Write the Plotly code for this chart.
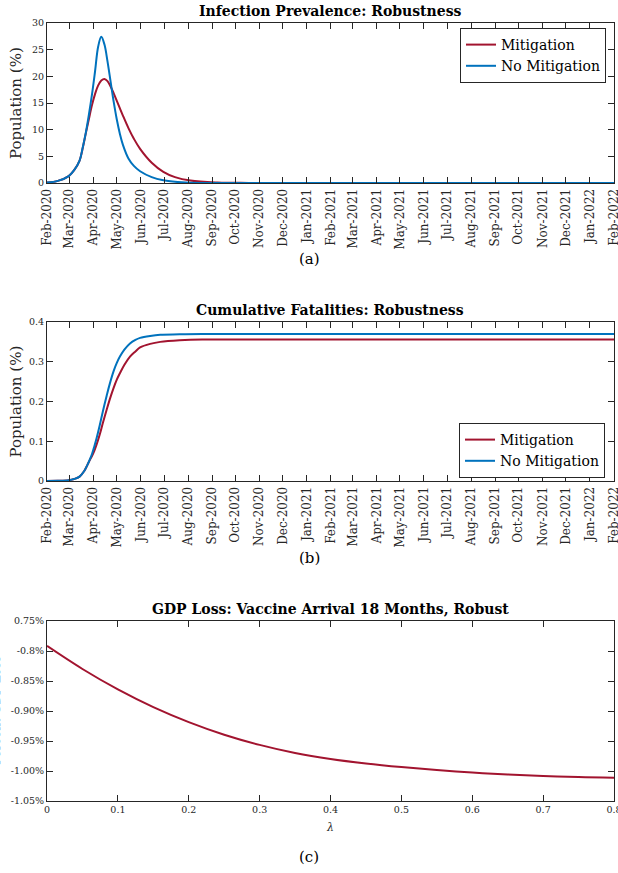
import plotly.graph_objects as go
import pandas as pd

W, H = 618, 873

# ---------- data ----------
start = pd.Timestamp("2020-02-01")

# Infection prevalence (%), by day since 1 Feb 2020
inf_days = [0, 14, 28, 35, 42, 46, 50, 54, 58, 62, 66, 70, 74, 78, 82, 86, 90, 94, 98,
            105, 112, 120, 135, 150, 165, 185, 220, 260, 300, 731]
inf_mitigation = [0.1, 0.4, 1.3, 2.4, 4.2, 6.5, 9.3, 12.0, 14.6, 16.7, 18.3, 19.2, 19.5,
                  19.1, 18.1, 16.8, 15.4, 14.0, 12.6, 10.3, 8.3, 6.4, 3.8, 2.1, 1.1, 0.45,
                  0.1, 0.02, 0.0, 0.0]
inf_no_mitigation = [0.1, 0.4, 1.3, 2.4, 4.2, 6.6, 9.4, 12.8, 16.6, 21.0, 25.6, 27.4, 26.0,
                     22.8, 19.0, 15.2, 11.9, 9.2, 7.1, 4.6, 3.2, 2.2, 1.1, 0.5, 0.22, 0.07,
                     0.01, 0.0, 0.0, 0.0]

# Cumulative fatalities (%), by day since 1 Feb 2020
fat_days = [0, 14, 28, 35, 42, 48, 52, 55, 58, 61, 64, 68, 72, 77, 81, 86, 90, 94, 100,
            107, 114, 120, 133, 146, 171, 200, 731]
fat_mitigation = [0.0, 0.0005, 0.002, 0.005, 0.011, 0.025, 0.040, 0.052, 0.063, 0.076,
                  0.092, 0.117, 0.146, 0.180, 0.206, 0.235, 0.255, 0.271, 0.293, 0.313,
                  0.326, 0.336, 0.345, 0.350, 0.354, 0.356, 0.356]
fat_no_mitigation = [0.0, 0.0005, 0.002, 0.005, 0.011, 0.025, 0.040, 0.053, 0.068, 0.087,
                     0.108, 0.140, 0.175, 0.215, 0.245, 0.277, 0.297, 0.313, 0.331, 0.346,
                     0.355, 0.360, 0.365, 0.368, 0.369, 0.370, 0.370]

# GDP loss (%) vs lambda
lam = [0.0, 0.05, 0.1, 0.15, 0.2, 0.25, 0.3, 0.35, 0.4, 0.45, 0.5, 0.55, 0.6, 0.65, 0.7, 0.75, 0.8]
gdp_loss = [-0.7915, -0.830, -0.864, -0.8935, -0.9185, -0.9395, -0.9565, -0.970, -0.9800,
            -0.9875, -0.9935, -0.9985, -1.0025, -1.0058, -1.0083, -1.0102, -1.0113]

gdp_ticks = [-1.05, -1.00, -0.95, -0.90, -0.85, -0.80, -0.75]
gdp_ticktext = ["-1.05%", "-1.00%", "-0.95%", "-0.90%", "-0.85%", "-0.8%", "0.75%"]
lam_ticks = [0, 0.1, 0.2, 0.3, 0.4, 0.5, 0.6, 0.7, 0.8]

titles = ["Infection Prevalence: Robustness", "Cumulative Fatalities: Robustness",
          "GDP Loss: Vaccine Arrival 18 Months, Robust"]
captions = ["(a)", "(b)", "(c)"]

inf_dates = [start + pd.Timedelta(days=d) for d in inf_days]
fat_dates = [start + pd.Timedelta(days=d) for d in fat_days]

RED = "#A2142F"
BLUE = "#0072BD"
FONT = "DejaVu Serif"
AX = "#262626"


def px(x):
    return x / W


def py(y):
    return 1 - y / H


XL, XR = 47, 614
boxes = [(23, 183), (322, 481), (621, 801)]

fig = go.Figure()
LW = 2
fig.add_trace(go.Scatter(x=inf_dates, y=inf_mitigation, mode="lines", name="Mitigation",
                         line=dict(color=RED, width=LW, shape="spline", smoothing=1),
                         xaxis="x", yaxis="y", legend="legend"))
fig.add_trace(go.Scatter(x=inf_dates, y=inf_no_mitigation, mode="lines", name="No Mitigation",
                         line=dict(color=BLUE, width=LW, shape="spline", smoothing=1),
                         xaxis="x", yaxis="y", legend="legend"))
fig.add_trace(go.Scatter(x=fat_dates, y=fat_mitigation, mode="lines", name="Mitigation",
                         line=dict(color=RED, width=LW, shape="spline", smoothing=1),
                         xaxis="x2", yaxis="y2", legend="legend2"))
fig.add_trace(go.Scatter(x=fat_dates, y=fat_no_mitigation, mode="lines", name="No Mitigation",
                         line=dict(color=BLUE, width=LW, shape="spline", smoothing=1),
                         xaxis="x2", yaxis="y2", legend="legend2"))
fig.add_trace(go.Scatter(x=lam, y=gdp_loss, mode="lines", showlegend=False,
                         line=dict(color=RED, width=LW, shape="spline", smoothing=1),
                         xaxis="x3", yaxis="y3"))

common = dict(showgrid=False, zeroline=False, showline=True, linecolor=AX, linewidth=1,
              mirror="allticks", ticks="inside", ticklen=6, tickcolor=AX,
              ticklabeloverflow="allow", automargin=False,
              tickfont=dict(family=FONT, size=9.5, color=AX))

date_axis = dict(common, type="date", range=["2020-02-01", "2022-02-01"],
                 tick0="2020-02-01", dtick="M1", tickformat="%b-%Y", tickangle=-90,
                 tickfont=dict(family=FONT, size=12, color=AX),
                 domain=[px(XL), px(XR)])

legend_common = dict(xanchor="right", bgcolor="white", bordercolor=AX, borderwidth=1,
                     font=dict(family=FONT, size=14, color="black"),
                     itemwidth=30, tracegroupgap=0)

fig.update_layout(
    width=W, height=H, margin=dict(l=0, r=0, t=0, b=0, autoexpand=False),
    paper_bgcolor="white", plot_bgcolor="white",
    font=dict(family=FONT, color="black"),
    xaxis=dict(date_axis, anchor="y"),
    yaxis=dict(common, range=[0, 30], dtick=5, anchor="x",
               domain=[py(boxes[0][1]), py(boxes[0][0])]),
    xaxis2=dict(date_axis, anchor="y2"),
    yaxis2=dict(common, range=[0, 0.4], dtick=0.1, anchor="x2",
                domain=[py(boxes[1][1]), py(boxes[1][0])]),
    xaxis3=dict(common, range=[0, 0.8], tickvals=lam_ticks,
                ticktext=[("%g" % v) for v in lam_ticks], anchor="y3",
                domain=[px(XL), px(XR)]),
    yaxis3=dict(common, range=[-1.05, -0.75], tickvals=gdp_ticks, ticktext=gdp_ticktext,
                anchor="x3", domain=[py(boxes[2][1]), py(boxes[2][0])]),
    legend=dict(legend_common, x=px(606), y=py(28), yanchor="top"),
    legend2=dict(legend_common, x=px(605), y=py(478), yanchor="bottom"),
)

ann = []
title_y = [11, 310, 609]
cap_y = [259, 558, 857]
for i in range(3):
    ann.append(dict(text="<b>%s</b>" % titles[i], x=px((XL + XR) / 2), y=py(title_y[i]),
                    xref="paper", yref="paper", showarrow=False,
                    font=dict(family=FONT, size=14, color="black"),
                    xanchor="center", yanchor="middle"))
    ann.append(dict(text=captions[i], x=px(309), y=py(cap_y[i]),
                    xref="paper", yref="paper", showarrow=False,
                    font=dict(family=FONT, size=15, color="black"),
                    xanchor="center", yanchor="middle"))
for yc in [(boxes[0][0] + boxes[0][1]) / 2, (boxes[1][0] + boxes[1][1]) / 2]:
    ann.append(dict(text="Population (%)", x=px(16), y=py(yc), textangle=-90,
                    xref="paper", yref="paper", showarrow=False,
                    font=dict(family=FONT, size=15, color=AX),
                    xanchor="center", yanchor="middle"))
ann.append(dict(text="Percent GDP Loss", x=px(-4), y=py(711), textangle=-90,
                xref="paper", yref="paper", showarrow=False,
                font=dict(family=FONT, size=12, color=AX),
                xanchor="center", yanchor="middle"))
ann.append(dict(text="<i>λ</i>", x=px((XL + XR) / 2), y=py(827),
                xref="paper", yref="paper", showarrow=False,
                font=dict(family=FONT, size=11, color=AX),
                xanchor="center", yanchor="middle"))
fig.update_layout(annotations=ann)

fig.write_html("out.html")
